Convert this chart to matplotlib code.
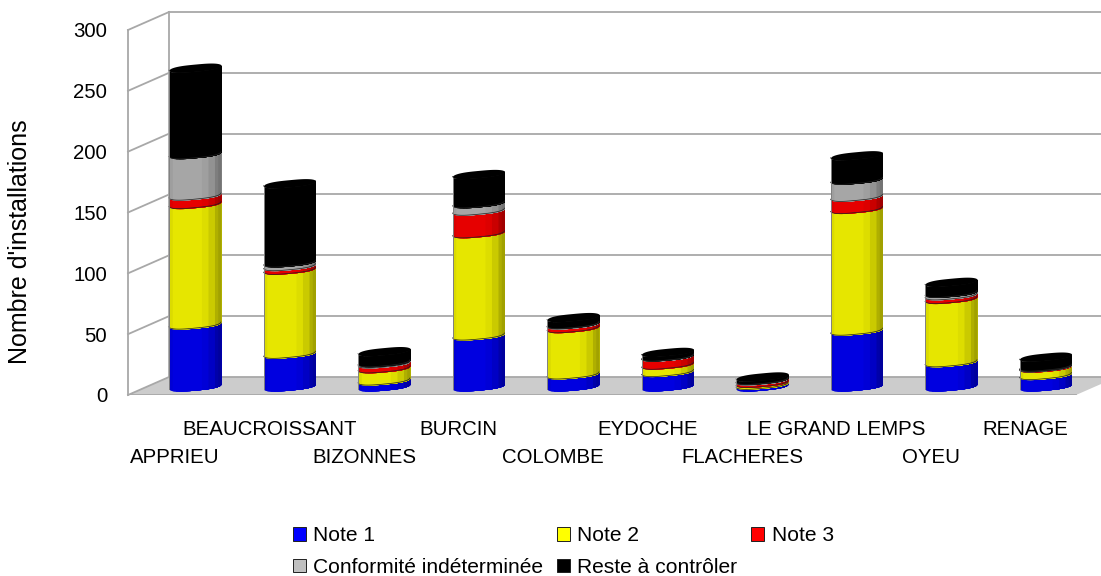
import numpy as np
import matplotlib
matplotlib.use('Agg')
import matplotlib.pyplot as plt
from matplotlib.patches import Patch

plt.rcParams['font.family'] = ['Liberation Sans', 'DejaVu Sans']

communes = ['APPRIEU', 'BEAUCROISSANT', 'BIZONNES', 'BURCIN', 'COLOMBE',
            'EYDOCHE', 'FLACHERES', 'LE GRAND LEMPS', 'OYEU', 'RENAGE']
note1 = [51, 27, 5, 42, 10, 12, 1.5, 46, 20, 9.5]
note2 = [99, 69, 10, 84, 38, 6, 1.5, 100, 52, 6]
note3 = [7, 3, 4, 18.6, 3, 6.5, 2, 10, 3, 0.5]
indeterminee = [34, 3, 1, 6, 0.5, 0.3, 0.5, 14, 2, 0.5]
reste = [71, 65, 9, 24, 5.5, 3.6, 2.7, 20, 9, 8]

series = [note1, note2, note3, indeterminee, reste]
names = ['Note 1', 'Note 2', 'Note 3', 'Conformité indéterminée', 'Reste à contrôler']
legend_colors = ['#0000ff', '#ffff00', '#ff0000', '#c0c0c0', '#000000']
body_colors = ['#0000e0', '#e6e600', '#e60000', '#a6a6a6', '#000000']
yticks = [0, 50, 100, 150, 200, 250, 300]

W, H = 1101, 576
GRID = '#a8a8a8'

# 3d look, in data units
DEPTH_X = 41 / 94.5
DEPTH_Y = 14.8
BASE = 7.0
HALF = 0.275
TILT = 2.0
BULGE = 3.0

# shading across the cylinder, left to right
SHADE = [0.95, 1, 1, 1, 1, 1, 1, 1, 1, 1, 0.96, 0.96, 0.88, 0.88, 0.76, 0.7]


def curve(x):
    # squarish half ellipse, flatter than a true one like the original bars
    t = (x - x.mean()) / HALF
    return t, np.sqrt(np.clip(1 - np.abs(t) ** 3, 0, 1))


def edge(x, y):
    t, g = curve(x)
    return y + TILT * t - BULGE * g


def shade(color, f):
    return tuple(c * f for c in matplotlib.colors.to_rgb(color))


def draw_bar(ax, i, values):
    xs = np.linspace(i - HALF, i + HALF, 81)
    bottom = BASE
    n = len(SHADE)
    for val, color in zip(values, body_colors):
        top = bottom + val
        low = edge(xs, bottom)
        high = edge(xs, top)
        # each strip runs to the right end, the next one paints over it
        for k in range(n):
            a = k * 80 // n
            ax.fill_between(xs[a:], low[a:], high[a:], color=shade(color, SHADE[k]),
                            lw=0, zorder=5, clip_on=False)
        ax.plot(xs, high, color='#202020', lw=0.5, zorder=6, clip_on=False)
        bottom = top
    # outline on the left side
    ax.plot([i - HALF, i - HALF], [BASE - TILT, bottom - TILT], color='#808080', lw=0.7,
            zorder=6, clip_on=False)
    # top of the cylinder
    t, g = curve(xs)
    ax.fill_between(xs, bottom + TILT * t - BULGE * g, bottom + TILT * t + BULGE * g,
                    color='black', lw=0, zorder=7, clip_on=False)


fig = plt.figure(figsize=(W / 100, H / 100), dpi=100)
ax = fig.add_axes([128 / W, 1 - 395 / H, (W - 128) / W, 365 / H])
ax.set_xlim((128 - 195) / 94.5, (W - 195) / 94.5)
ax.set_ylim(0, 300)
for s in ax.spines.values():
    s.set_visible(False)

x0, x1 = ax.get_xlim()
back = x0 + DEPTH_X

# floor and walls
floor_x = [x0, (1076 - 195) / 94.5, (1076 - 195) / 94.5 + DEPTH_X, back]
ax.fill(floor_x, [0, 0, DEPTH_Y, DEPTH_Y], facecolor='#cccccc', edgecolor='none',
        zorder=1, clip_on=True)
ax.plot(floor_x[:2], [0, 0], color=GRID, lw=1.3, zorder=2)
for v in yticks:
    ax.plot([back, x1], [v + DEPTH_Y, v + DEPTH_Y], color=GRID, lw=1.3, zorder=2, clip_on=False)
    ax.plot([x0, back], [v, v + DEPTH_Y], color=GRID, lw=1.3, zorder=2, clip_on=False)
ax.plot([x0, x0], [0, 300], color=GRID, lw=1.3, zorder=2, clip_on=False)
ax.plot([back, back], [DEPTH_Y, 300 + DEPTH_Y], color=GRID, lw=1.3, zorder=2, clip_on=False)

for i in range(len(communes)):
    draw_bar(ax, i, [s[i] for s in series])

ax.set_yticks(yticks)
ax.tick_params(axis='y', length=0, labelsize=14.7, pad=15)
ax.set_xticks(np.arange(len(communes)) - 20 / 94.5)
ax.set_xticklabels(communes)
ax.tick_params(axis='x', length=0, labelsize=14.7)
# labels sit on two rows
for i, tick in enumerate(ax.xaxis.get_major_ticks()):
    tick.set_pad(18 if i % 2 else 38)
ax.set_ylabel("Nombre d'installations", fontsize=18)
ax.yaxis.set_label_coords(-96 / (W - 128), 153 / 365)

order = [0, 3, 1, 4, 2]
handles = [Patch(facecolor=legend_colors[k], edgecolor='#202020', lw=0.7) for k in order]
fig.legend(handles, [names[k] for k in order], ncol=3, frameon=False, fontsize=15.1,
           loc='lower left', bbox_to_anchor=(291 / W, -3 / H), borderaxespad=0, borderpad=0.1,
           handlelength=0.62, handleheight=0.62, handletextpad=0.35,
           columnspacing=0.65, labelspacing=0.6)

fig.savefig('out.png', dpi=100)
